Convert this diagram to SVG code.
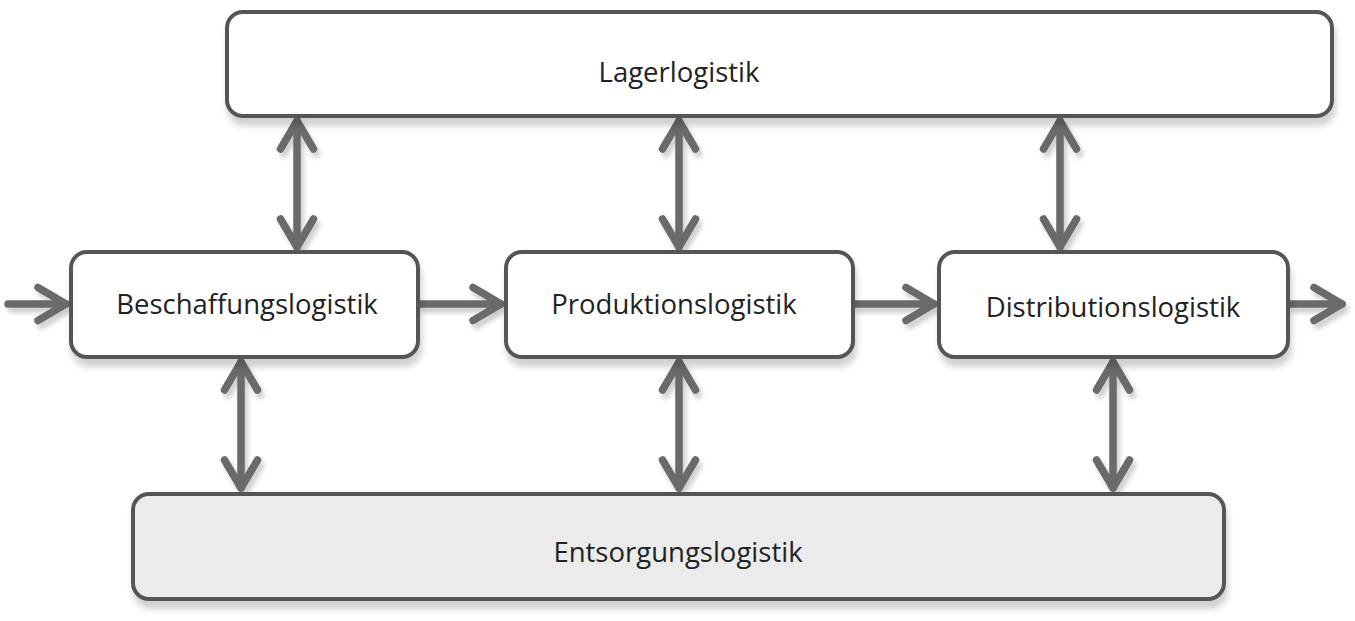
<svg xmlns="http://www.w3.org/2000/svg" width="1355" height="621" viewBox="0 0 1355 621">
<style>
.box{fill:#fff;stroke:#555;stroke-width:4;filter:url(#sh)}
.gray{fill:#ebebeb}
.lbl{font-family:"Open Sans","DejaVu Sans",sans-serif;font-size:27.5px;fill:#222;text-anchor:middle}
.arr{fill:none;stroke:#6a6a6a;stroke-width:7.5;stroke-linecap:round;stroke-linejoin:round;marker-end:url(#ah)}
.dbl{marker-start:url(#ah)}
</style>
<defs>
<filter id="sh" x="-5%" y="-20%" width="110%" height="150%">
<feDropShadow dx="2" dy="8" stdDeviation="3" flood-color="#000" flood-opacity="0.18"/>
</filter>
<filter id="ash" filterUnits="userSpaceOnUse" x="0" y="0" width="1355" height="621">
<feDropShadow dx="3" dy="5" stdDeviation="2.5" flood-color="#000" flood-opacity="0.2"/>
</filter>
<marker id="ah" markerUnits="userSpaceOnUse" orient="auto-start-reverse" refX="0" refY="0" markerWidth="44" markerHeight="44" viewBox="-34 -22 40 44" overflow="visible">
<path d="M -28 -16.5 L 0 0 L -28 16.5" fill="none" stroke="#6a6a6a" stroke-width="7.5" stroke-linecap="round" stroke-linejoin="round"/>
</marker>
</defs>
<g id="connectors" filter="url(#ash)">
<line class="arr" x1="8" y1="304" x2="66" y2="304"/>
<line class="arr" x1="420" y1="304" x2="501" y2="304"/>
<line class="arr" x1="855" y1="304" x2="934" y2="304"/>
<line class="arr" x1="1290" y1="304" x2="1342" y2="304"/>
<line class="arr dbl" x1="297" y1="121" x2="297" y2="247"/>
<line class="arr dbl" x1="679" y1="121" x2="679" y2="247"/>
<line class="arr dbl" x1="1060" y1="121" x2="1060" y2="247"/>
<line class="arr dbl" x1="241" y1="362" x2="241" y2="488"/>
<line class="arr dbl" x1="679" y1="362" x2="679" y2="488"/>
<line class="arr dbl" x1="1113" y1="362" x2="1113" y2="488"/>
</g>
<g id="lager">
<rect class="box" x="227" y="12" width="1105" height="104" rx="16"/>
<text class="lbl" x="679" y="82">Lagerlogistik</text>
</g>
<g id="beschaffung">
<rect class="box" x="71" y="252" width="347" height="105" rx="16"/>
<text class="lbl" x="247" y="314">Beschaffungslogistik</text>
</g>
<g id="produktion">
<rect class="box" x="506" y="252" width="347" height="105" rx="16"/>
<text class="lbl" x="674" y="314">Produktionslogistik</text>
</g>
<g id="distribution">
<rect class="box" x="939" y="252" width="349" height="105" rx="16"/>
<text class="lbl" x="1113" y="317">Distributionslogistik</text>
</g>
<g id="entsorgung">
<rect class="box gray" x="133" y="494" width="1091" height="105" rx="16"/>
<text class="lbl" x="678" y="562">Entsorgungslogistik</text>
</g>
</svg>
